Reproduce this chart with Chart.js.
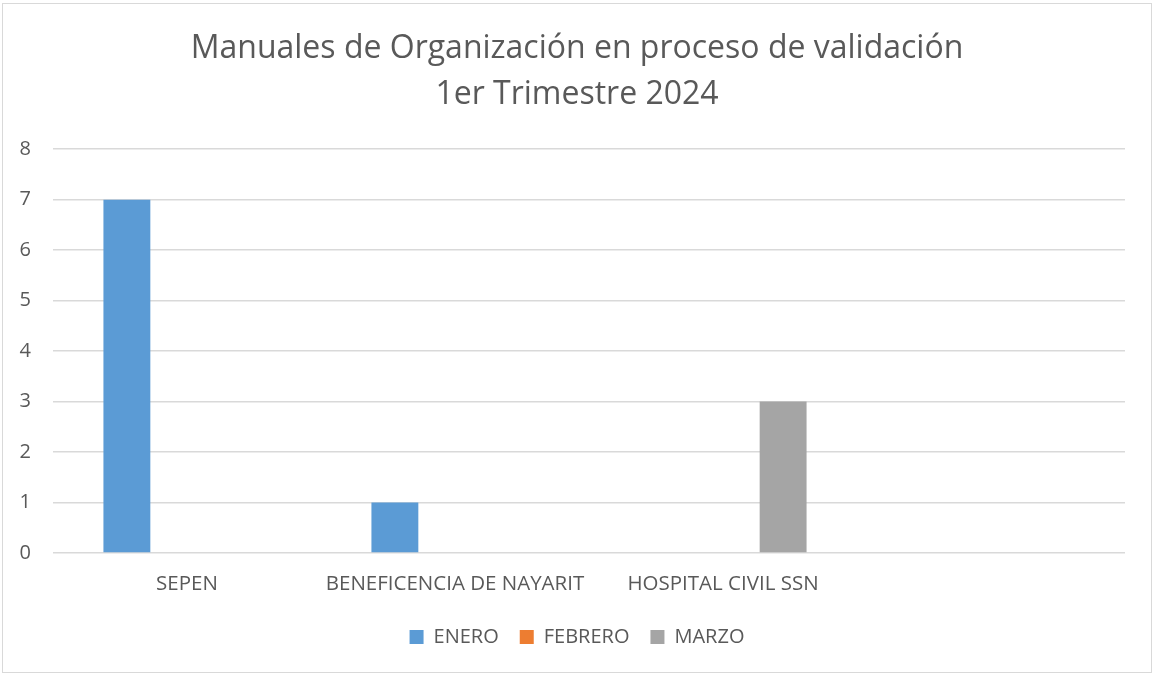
<!DOCTYPE html>
<html>
<head>
<meta charset="utf-8">
<script src="https://cdn.jsdelivr.net/npm/chart.js@4.4.1/dist/chart.umd.min.js"></script>
<style>
  html, body { margin: 0; padding: 0; background: #ffffff; }
  #wrap { position: relative; width: 1154px; height: 675px; }
  #frame { position: absolute; left: 2px; top: 3px; width: 1150px; height: 670px; border: 1px solid #d9d9d9; box-sizing: border-box; }
  canvas { position: absolute; left: 0; top: 0; }
</style>
</head>
<body>
<div id="wrap">
  <div id="frame"></div>
  <canvas id="c" width="1154" height="675"></canvas>
</div>
<script>
const titleLines = ['Manuales de Organización en proceso de validación', '1er Trimestre 2024'];
const categories = ['SEPEN', 'BENEFICENCIA DE NAYARIT', 'HOSPITAL CIVIL SSN', ''];
const seriesNames = ['ENERO', 'FEBRERO', 'MARZO'];
const enero = [7, 1, 0, null];
const febrero = [0, 0, 0, null];
const marzo = [0, 0, 3, null];
const yTicks = [0, 1, 2, 3, 4, 5, 6, 7, 8];
const colors = ['#5B9BD5', '#ED7D31', '#A5A5A5'];

const FONT = "'Open Sans', 'DejaVu Sans', sans-serif";
const TXT = '#595959';

const ds = [enero, febrero, marzo].map((d, i) => ({
  label: seriesNames[i],
  data: d,
  backgroundColor: colors[i],
  borderWidth: 0,
  categoryPercentage: 0.673,
  barPercentage: 0.78
}));

new Chart(document.getElementById('c'), {
  type: 'bar',
  data: { labels: categories, datasets: ds },
  options: {
    responsive: false,
    animation: false,
    devicePixelRatio: 1,
    layout: { padding: { top: 26, left: 0, right: 0, bottom: 18 } },
    plugins: {
      title: {
        display: true,
        text: titleLines,
        color: TXT,
        font: { family: FONT, size: 32, weight: 'normal', lineHeight: 1.44 },
        padding: { top: 0, bottom: 31 }
      },
      legend: {
        position: 'bottom',
        labels: {
          color: TXT,
          font: { family: FONT, size: 20 },
          boxWidth: 14,
          boxHeight: 14,
          padding: 21
        }
      },
      tooltip: { enabled: false }
    },
    scales: {
      x: {
        grid: { display: false },
        border: { display: false },
        ticks: { color: TXT, font: { family: FONT, size: 20.5 }, maxRotation: 0, autoSkip: false, padding: 11 },
        afterFit: s => { s.height = 53; }
      },
      y: {
        min: 0, max: 8,
        afterBuildTicks: s => { s.ticks = yTicks.map(v => ({ value: v })); },
        grid: { color: '#d9d9d9', lineWidth: 1.5, drawTicks: false },
        border: { display: false },
        ticks: { color: TXT, font: { family: FONT, size: 20 }, padding: 22 },
        afterFit: s => { s.width = 53; }
      },
      yRight: {
        position: 'right',
        display: true,
        grid: { display: false, drawTicks: false },
        border: { display: false },
        ticks: { display: false },
        afterFit: s => { s.width = 29; }
      }
    }
  }
});
</script>
</body>
</html>
